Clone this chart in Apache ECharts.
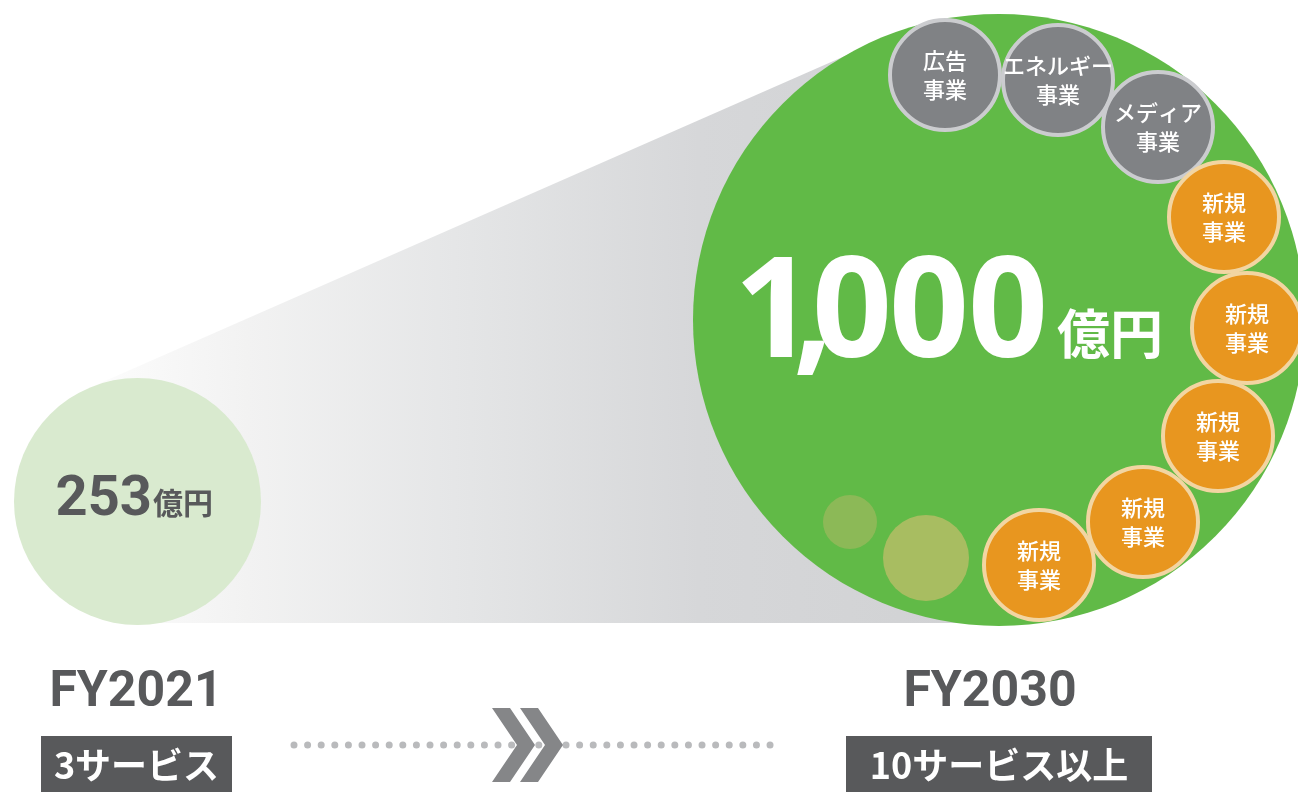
<!DOCTYPE html>
<html>
<head>
<meta charset="utf-8">
<script src="https://cdn.jsdelivr.net/npm/echarts@6/dist/echarts.min.js"></script>
<style>
html,body{margin:0;padding:0;background:#fff;}
#chart{width:1298px;height:792px;}
</style>
</head>
<body>
<div id="chart"></div>
<script>
// ---- data ----
const totals = [253, 1000];
const unitLabel = '億円';
const years = ['FY2021', 'FY2030'];
const serviceLabels = ['3サービス', '10サービス以上'];
const businessNames = ['広告事業', 'エネルギー事業', 'メディア事業', '新規事業', '新規事業', '新規事業', '新規事業', '新規事業'];
const businessKinds = ['existing', 'existing', 'existing', 'new', 'new', 'new', 'new', 'new'];

// ---- layout (pixel space of hidden axes) ----
const totalLayout = [
  { x: 137.5, y: 501.5, d: 247, color: '#d9eacf' },
  { x: 999, y: 320, d: 612, color: '#61ba47' }
];
const businessLayout = [[945, 75], [1058, 80], [1158, 127], [1224, 217], [1247, 328], [1218, 436], [1143, 522], [1039, 565]];
const decorLayout = [[850, 522, 54, '#8cb957'], [926, 558, 86, '#a8bd61']];
const bigDigitCenters = [774, 813, 852, 929, 1008]; // glyph centres for the large figure (tight display setting)
const kindStyle = {
  existing: { color: '#808285', borderColor: '#cbcccf' },
  new: { color: '#e8961f', borderColor: '#f2d5a2' }
};
const DARK = '#58595b';
const LATIN = 'Roboto, "Noto Sans", sans-serif';
const DISPLAY = '"Open Sans", Roboto, sans-serif';
const CJK = '"Noto Sans CJK JP", sans-serif';

const chart = echarts.init(document.getElementById('chart'), null, { renderer: 'canvas' });

const fmt = v => v.toLocaleString('en-US');

const option = {
  animation: false,
  backgroundColor: '#ffffff',
  grid: { left: 0, right: 0, top: 0, bottom: 0 },
  xAxis: { type: 'value', min: 0, max: 1298, show: false },
  yAxis: { type: 'value', min: 0, max: 792, inverse: true, show: false },
  series: [
    {
      type: 'scatter', name: 'totals', silent: true, clip: false, z: 2,
      symbol: 'circle',
      data: totals.map((v, i) => ({
        value: [totalLayout[i].x, totalLayout[i].y, v],
        symbolSize: totalLayout[i].d,
        itemStyle: { color: totalLayout[i].color, opacity: 1 }
      })),
      label: { show: false }
    },
    {
      type: 'scatter', name: 'decor', silent: true, clip: false, z: 3,
      symbol: 'circle',
      data: decorLayout.map(d => ({ value: [d[0], d[1]], symbolSize: d[2], itemStyle: { color: d[3], opacity: 1 } }))
    },
    {
      type: 'scatter', name: 'businesses', silent: true, clip: false, z: 4,
      symbol: 'circle',
      data: businessNames.map((n, i) => ({
        name: n,
        value: businessLayout[i],
        symbolSize: 110,
        itemStyle: { color: kindStyle[businessKinds[i]].color, borderColor: kindStyle[businessKinds[i]].borderColor, borderWidth: 4, opacity: 1 }
      })),
      label: {
        show: true, position: 'inside',
        formatter: p => p.name.replace('事業', '\n事業'),
        color: '#ffffff', fontFamily: CJK, fontSize: 22, fontWeight: 500, lineHeight: 29
      }
    }
  ],
  graphic: { elements: [] }
};

const G = option.graphic.elements;
// funnel
G.push({
  type: 'polygon', z: 0, silent: true,
  shape: { points: [[89, 388], [879, 41], [999, 100], [999, 623], [137, 623], [60, 520]] },
  style: {
    fill: new echarts.graphic.LinearGradient(0, 0, 1, 0, [
      { offset: 0, color: '#ffffff' },
      { offset: 0.06, color: '#fbfbfb' },
      { offset: 0.2, color: '#f2f2f2' },
      { offset: 0.42, color: '#e5e6e7' },
      { offset: 0.68, color: '#d6d7d9' },
      { offset: 1, color: '#d0d1d3' }
    ])
  }
});
// total values
G.push({ type: 'text', z: 100, x: 152, y: 501, style: { text: fmt(totals[0]), fontFamily: LATIN, fontWeight: 'bold', fontSize: 56, fill: DARK, align: 'right', verticalAlign: 'middle' } });
G.push({ type: 'text', z: 100, x: 153, y: 503, style: { text: unitLabel, fontFamily: CJK, fontWeight: 'bold', fontSize: 30, fill: DARK, align: 'left', verticalAlign: 'middle' } });
fmt(totals[1]).split('').forEach((ch, i) => {
  G.push({ type: 'text', z: 100, x: bigDigitCenters[i], y: 317, style: { text: ch, fontFamily: DISPLAY, fontWeight: 'bold', fontSize: 140, fill: '#ffffff', align: 'center', verticalAlign: 'middle' } });
});
G.push({ type: 'text', z: 100, x: 1057, y: 334, style: { text: unitLabel, fontFamily: CJK, fontWeight: 'bold', fontSize: 53, fill: '#ffffff', align: 'left', verticalAlign: 'middle' } });
// years
[136, 990].forEach((cx, i) => {
  G.push({ type: 'text', z: 100, x: cx, y: 693, style: { text: years[i], fontFamily: LATIN, fontWeight: 'bold', fontSize: 50, fill: DARK, align: 'center', verticalAlign: 'middle' } });
});
// service boxes
[[41, 191, 136.5], [846, 306, 999]].forEach((b, i) => {
  G.push({ type: 'rect', z: 50, shape: { x: b[0], y: 736, width: b[1], height: 60 }, style: { fill: DARK } });
  G.push({ type: 'text', z: 100, x: b[2], y: 765, style: { text: serviceLabels[i], fontFamily: CJK, fontWeight: 'bold', fontSize: 36, fill: '#ffffff', align: 'center', verticalAlign: 'middle' } });
});
// dotted line
G.push({ type: 'line', z: 50, shape: { x1: 294, y1: 745, x2: 772, y2: 745 }, style: { stroke: '#b9babc', lineWidth: 7, lineCap: 'round', lineDash: [0.001, 13.6] } });
// chevrons
[0, 28].forEach(dx => {
  G.push({ type: 'polygon', z: 60, shape: { points: [[492 + dx, 708], [510 + dx, 708], [535 + dx, 745], [510 + dx, 782], [492 + dx, 782], [517 + dx, 745]] }, style: { fill: '#858688' } });
});

chart.setOption(option);
</script>
</body>
</html>
